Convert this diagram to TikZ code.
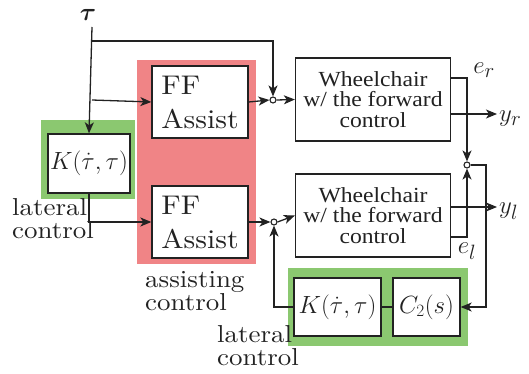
\documentclass[tikz,border=0pt]{standalone}
\usepackage{amsmath,amssymb,bm}
\usepackage{fontspec}
\usepackage{tikz}
\usetikzlibrary{calc,arrows.meta}
\newfontfamily\blockfont{lmroman10-regular.otf}[FakeStretch=1.1]
\newfontfamily\plantfont{Liberation Serif}[FakeStretch=1.1]
\definecolor{ink}{HTML}{222222}
\definecolor{assistbg}{HTML}{F08486}
\definecolor{lateralbg}{HTML}{8BC870}
\tikzset{
  blk/.style={draw=ink, fill=white, line width=1.3pt, inner sep=0pt, align=left,
    text=ink, font=\blockfont\fontsize{27}{34}\selectfont},
  plant/.style={blk, align=center, font=\plantfont\fontsize{21.5}{20.5}\selectfont},
  sum/.style={circle, draw=ink, fill=white, line width=1.1pt, inner sep=0pt, minimum size=6pt},
  sig/.style={draw=ink, line width=1.3pt, -{Stealth[length=11pt,width=9pt,inset=3pt]}},
  wire/.style={draw=ink, line width=1.3pt},
  lab/.style={text=ink, font=\fontsize{28}{28}\selectfont, inner sep=0pt},
  groupcap/.style={text=ink, font=\blockfont\fontsize{24.5}{23}\selectfont, align=left, inner sep=0pt},
}
\begin{document}
\begin{tikzpicture}[x=1pt,y=-1pt]
  \useasboundingbox (0,0) rectangle (529,374);

  % shaded groups
  \fill[assistbg] (137,60) rectangle (256,264);
  \fill[lateralbg] (41,120) rectangle (135,199);
  \fill[lateralbg] (288,268) rectangle (468,346);

  % blocks
  \node[blk, minimum width=96pt, minimum height=72pt] (ff1) at (200,102) {FF\\Assist};
  \node[blk, minimum width=96pt, minimum height=72pt] (ff2) at (200,222) {FF\\Assist};
  \node[blk, minimum width=82pt, minimum height=59pt] (k1) at (89,163.5) {$K(\dot{\tau},\tau)$};
  \node[plant, minimum width=155pt, minimum height=83pt] (w1) at (373,99.5) {Wheelchair\\w/ the forward\\control};
  \node[plant, minimum width=155pt, minimum height=83pt] (w2) at (373,215.5) {Wheelchair\\w/ the forward\\control};
  \node[blk, minimum width=87pt, minimum height=58pt] (k2) at (337.5,307) {$K(\dot{\tau},\tau)$};
  \node[blk, minimum width=67pt, minimum height=58pt] (c2) at (426.5,307) {$C_2(s)$};

  % summing points
  \node[sum] (j1) at (273,100) {};
  \node[sum] (j2) at (467,165) {};
  \node[sum] (j3) at (274,222) {};

  % signal labels
  \node[lab] (tau) at (88,15) {$\bm{\tau}$};
  \node[lab] (er) at (484,70) {$e_r$};
  \node[lab] (el) at (467,251) {$e_l$};
  \node[lab, anchor=west] (yr) at (499,119) {$y_r$};
  \node[lab, anchor=west] (yl) at (499,211) {$y_l$};

  \coordinate (t0) at (92,27);
  \coordinate (t1) at (92,41);
  \coordinate (t2) at (92,100);
  \coordinate (eR) at (w1.east |- 0,78);
  \coordinate (eL) at (w2.east |- 0,237);
  \coordinate (oR) at (w1.east |- 0,114);
  \coordinate (oL) at (w2.east |- 0,207);
  \coordinate (fb) at (486,165);

  % feed-forward part
  \draw[sig] (t0) -- (k1.north);
  \draw[sig] (t1) -| (j1.north);
  \draw[sig] (t2) -- (ff1.west);
  \draw[sig] (k1.south) |- (ff2.west);
  \draw[sig] (ff1.east) -- (j1.west);
  \draw[sig] (j1.east) -- (w1.west);
  \draw[sig] (ff2.east) -- (j3.west);
  \draw[sig] (j3.east) -- (w2.west);

  % outputs and lateral feedback
  \draw[sig] (oR) -- (497,114);
  \draw[sig] (oL) -- (497,207);
  \draw[sig] (eR) -| (j2.north);
  \draw[sig] (eL) -| (j2.south);
  \draw[sig] (j2.east) -- (fb) |- (c2.east);
  \draw[wire] (c2.west) -- (k2.east);
  \draw[sig] (k2.west) -| (j3.south);

  % group captions
  \node[groupcap, anchor=north west] (cap1) at (12,198) {lateral\\control};
  \node[groupcap, anchor=north west] (cap2) at (145,271) {assisting\\control};
  \node[groupcap, anchor=north west] (cap3) at (217,325) {lateral\\control};
\end{tikzpicture}
\end{document}
